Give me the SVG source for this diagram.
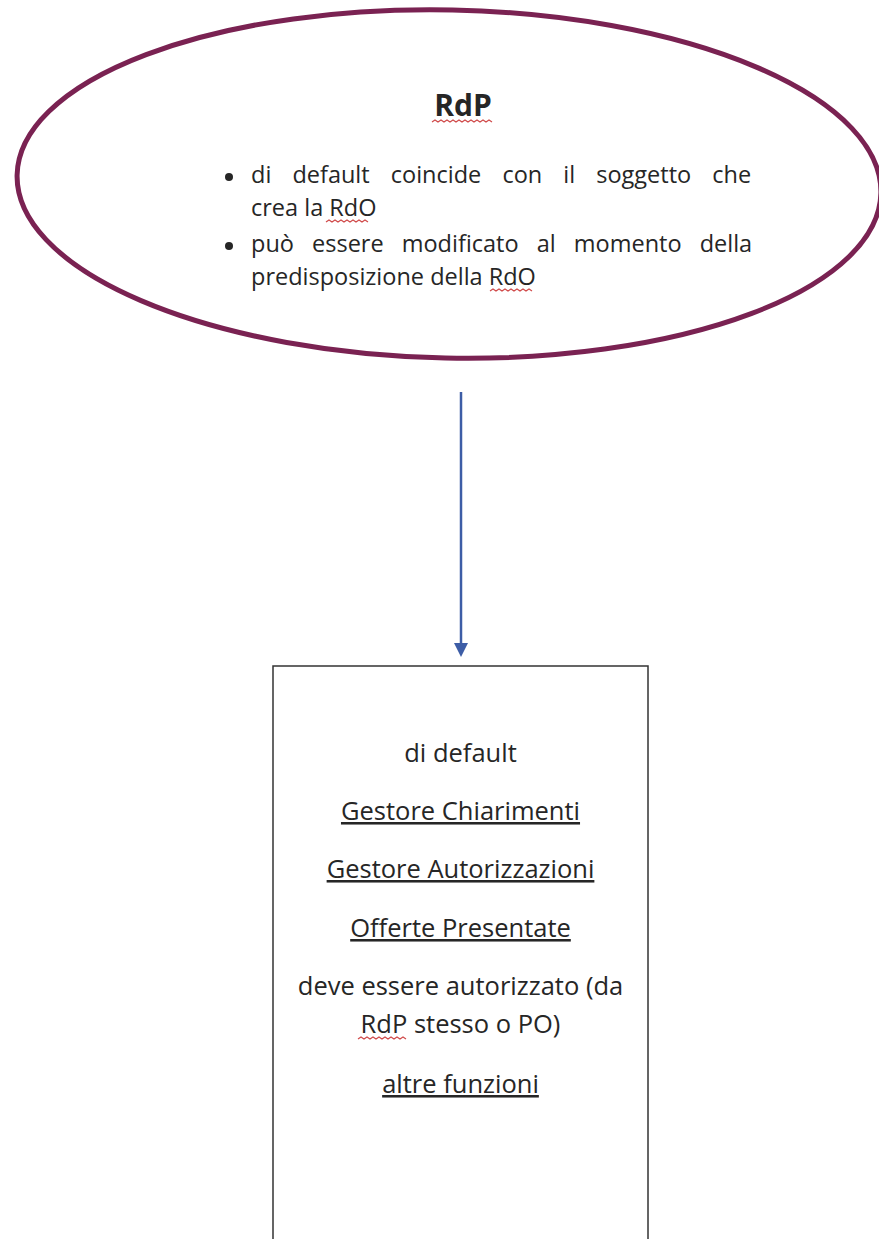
<svg xmlns="http://www.w3.org/2000/svg" width="879" height="1239" viewBox="0 0 879 1239">
<defs>
<style>
.t{font-family:"Open Sans","Noto Sans","DejaVu Sans",sans-serif;fill:#262626;}
.b{font-size:23.5px;}
.c{font-size:25.5px;text-anchor:middle;}
.u{text-decoration:underline;}
.sq{fill:none;stroke:#d04a4a;stroke-width:1.2;}
</style>
</defs>
<rect width="879" height="1239" fill="#ffffff"/>
<g id="rdp-ellipse">
<ellipse cx="449" cy="184" rx="432" ry="174" transform="rotate(1.2 449 184)" fill="none" stroke="#7a2252" stroke-width="5"/>
<text class="t" x="463" y="116" font-size="30" font-weight="bold" text-anchor="middle" fill="#111">RdP</text>
<path class="sq" d="M432 122 l3 -2 l3 2 l3 -2 l3 2 l3 -2 l3 2 l3 -2 l3 2 l3 -2 l3 2 l3 -2 l3 2 l3 -2 l3 2 l3 -2 l3 2 l3 -2 l3 2 l3 -2 l3 2"/>
<circle cx="229" cy="177" r="4" fill="#262626"/>
<circle cx="229" cy="246" r="4" fill="#262626"/>
<text class="t b" x="251" y="183" word-spacing="15">di default coincide con il soggetto che</text>
<text class="t b" x="251" y="216">crea la RdO</text>
<text class="t b" x="251" y="252" word-spacing="12">può essere modificato al momento della</text>
<text class="t b" x="251" y="285">predisposizione della RdO</text>
<path class="sq" d="M326 222 l3 -2 l3 2 l3 -2 l3 2 l3 -2 l3 2 l3 -2 l3 2 l3 -2 l3 2 l3 -2 l3 2 l3 -2 l3 2"/>
<path class="sq" d="M490 291 l3 -2 l3 2 l3 -2 l3 2 l3 -2 l3 2 l3 -2 l3 2 l3 -2 l3 2 l3 -2 l3 2 l3 -2 l3 2"/>
</g>
<g id="connectors">
<line x1="461" y1="392" x2="461" y2="645" stroke="#3d5da6" stroke-width="2.5"/>
<polygon points="454,643 468,643 461,657" fill="#3d5da6"/>
</g>
<g id="rdp-box">
<rect x="273" y="666" width="375" height="600" fill="none" stroke="#333" stroke-width="1.5"/>
<text class="t c" x="460.5" y="762">di default</text>
<text class="t c u" x="460.5" y="820">Gestore Chiarimenti</text>
<text class="t c u" x="460.5" y="878">Gestore Autorizzazioni</text>
<text class="t c u" x="460.5" y="937">Offerte Presentate</text>
<text class="t c" x="460.5" y="995">deve essere autorizzato (da</text>
<text class="t c" x="460.5" y="1033">RdP stesso o PO)</text>
<path class="sq" d="M358 1039 l3 -2 l3 2 l3 -2 l3 2 l3 -2 l3 2 l3 -2 l3 2 l3 -2 l3 2 l3 -2 l3 2 l3 -2 l3 2 l3 -2 l3 2"/>
<text class="t c u" x="460.5" y="1093">altre funzioni</text>
</g>
</svg>
